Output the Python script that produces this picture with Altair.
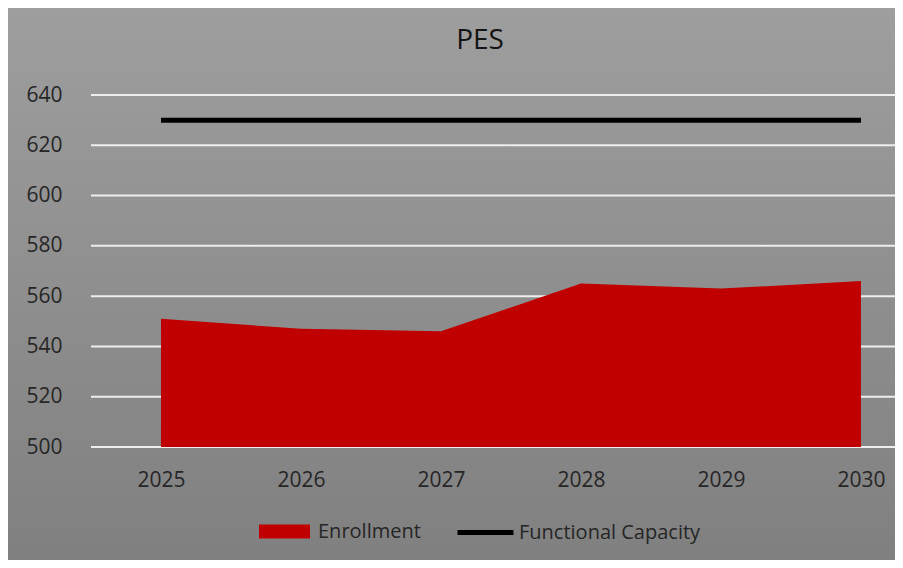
import altair as alt
import pandas as pd

years = [2025, 2026, 2027, 2028, 2029, 2030]
enrollment = [551, 547, 546, 565, 563, 566]
capacity = [630, 630, 630, 630, 630, 630]
grid_values = [500, 520, 540, 560, 580, 600, 620, 640]
series_names = ["Enrollment", "Functional Capacity"]
title_text = "PES"

df = pd.DataFrame({
    "year": years,
    "enrollment": enrollment,
    "capacity": capacity,
    "s1": series_names[0],
    "s2": series_names[1],
})
grid = pd.DataFrame({"v": grid_values})
bg = pd.DataFrame({"k": [0]})

FONT = "Open Sans"
TXT = "#262626"
W, H = 804, 352

xscale = alt.Scale(domain=[2024.5, 2030.243], nice=False, zero=False)
yscale = alt.Scale(domain=[500, 640], nice=False, zero=False)

yaxis = alt.Axis(values=grid_values, title=None, grid=False,
                 domain=False, ticks=False, labelFontSize=21,
                 labelFont=FONT, labelColor=TXT, labelPadding=29, zindex=2)

background = alt.Chart(bg).mark_rect(
    fill=alt.Gradient(
        gradient="linear",
        stops=[alt.GradientStop(color="#9e9e9e", offset=0),
               alt.GradientStop(color="#7f7f7f", offset=1)],
        x1=0, x2=0, y1=0, y2=1,
    )
).encode(
    x=alt.value(-83), x2=alt.value(W + 20),
    y=alt.value(-87), y2=alt.value(H + 130),
)

title = alt.Chart(bg).mark_text(
    text=title_text, font=FONT, fontSize=28, color="#141414",
    align="center", baseline="middle",
).encode(x=alt.value(389), y=alt.value(-54))

gridlines = alt.Chart(grid).mark_rule(color="#eeeeee", strokeWidth=2).encode(
    y=alt.Y("v:Q", scale=yscale, axis=yaxis)
)

area = alt.Chart(df).mark_area(opacity=1, interpolate="linear").encode(
    x=alt.X("year:Q", scale=xscale,
            axis=alt.Axis(values=years, format="d", title=None, grid=False,
                          domain=False, ticks=False, labelFontSize=21,
                          labelFont=FONT, labelColor=TXT, labelPadding=22,
                          labelFlush=False, labelOverlap=False, zindex=2)),
    y=alt.Y("enrollment:Q", scale=yscale, axis=yaxis),
    y2=alt.datum(500),
    fill=alt.Fill("s1:N", scale=alt.Scale(domain=[series_names[0]], range=["#c00000"]),
                  legend=alt.Legend(orient="none", legendX=168, legendY=411,
                                    title=None, symbolType="M-1,-0.275H1V0.275H-1Z",
                                    symbolSize=2601, symbolStrokeWidth=0,
                                    symbolOpacity=1, labelLimit=400,
                                    labelFontSize=20, labelFont=FONT,
                                    labelColor=TXT, labelOffset=8, padding=0)),
)

line = alt.Chart(df).mark_line(strokeWidth=5).encode(
    x=alt.X("year:Q", scale=xscale),
    y=alt.Y("capacity:Q", scale=yscale, axis=yaxis),
    stroke=alt.Stroke("s2:N", scale=alt.Scale(domain=[series_names[1]], range=["#000000"]),
                      legend=alt.Legend(orient="none", legendX=364, legendY=407,
                                        title=None, symbolType="stroke",
                                        symbolSize=3136, symbolStrokeWidth=5,
                                        labelLimit=400,
                                        labelFontSize=20, labelFont=FONT,
                                        labelColor=TXT, labelOffset=3, padding=0)),
)

chart = alt.layer(background, title, gridlines, area, line).properties(
    width=W, height=H,
    autosize=alt.AutoSizeParams(type="none"),
    padding={"left": 83, "top": 87, "right": 0, "bottom": 113},
).resolve_legend(fill="independent", stroke="independent").configure_view(
    stroke=None
).configure(background="white")

chart.save("out.html", embed_options={"renderer": "svg", "actions": False})
